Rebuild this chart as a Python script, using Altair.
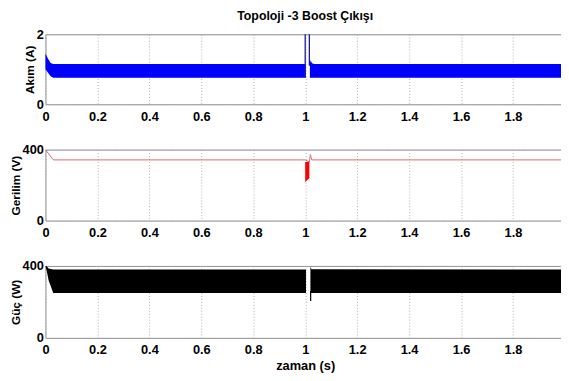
import altair as alt
import pandas as pd

# ---- data ----
# Akım (A): ripple envelope (lower/upper), two segments around the 1 s event
akim_t   = [0.0, 0.01, 0.02, 0.03, 1.002, 1.018, 1.021, 1.026, 1.035, 2.0]
akim_lo  = [1.00, 0.90, 0.80, 0.76, 0.76, 0.76, 0.76, 0.76, 0.76, 0.76]
akim_hi  = [1.45, 1.30, 1.18, 1.15, 1.15, 1.17, 1.26, 1.17, 1.15, 1.15]
akim_seg = ["a", "a", "a", "a", "a", "b", "b", "b", "b", "b"]
akim_spike_t  = [1.0, 1.016]
akim_spike_lo = [0.76, 1.10]
akim_spike_hi = [2.0, 2.0]

# Gerilim (V): mean line + ripple band during the event
ger_t   = [0.0, 0.03, 1.0, 1.016, 1.02, 1.025, 2.0]
ger_v   = [400, 342, 342, 330, 372, 342, 342]
ger_band_t  = [1.0, 1.005, 1.010, 1.016]
ger_band_lo = [215, 225, 232, 238]
ger_band_hi = [330, 330, 330, 330]

# Güç (W): ripple envelope
guc_t   = [0.0, 0.005, 0.012, 0.03, 1.003, 1.02, 1.024, 2.0]
guc_lo  = [400, 372, 320, 250, 250, 250, 250, 250]
guc_hi  = [400, 398, 386, 380, 380, 396, 382, 380]
guc_seg = ["a", "a", "a", "a", "a", "b", "b", "b"]
guc_spike_t  = [1.021]
guc_spike_lo = [205]
guc_spike_hi = [260]

x_ticks = [0, 0.2, 0.4, 0.6, 0.8, 1.0, 1.2, 1.4, 1.6, 1.8, 2.0]

FONT = "Liberation Sans"
W = 527

def xaxis(title=None):
    return alt.X("t:Q", scale=alt.Scale(domain=[0, 2], nice=False),
                 axis=alt.Axis(values=x_ticks, format="~g", title=title,
                               labelFlush=False, labelPadding=6, titlePadding=3))

def yenc(field, dom, vals, title):
    return alt.Y(f"{field}:Q", scale=alt.Scale(domain=dom, nice=False),
                 axis=alt.Axis(values=vals, title=title, labelFlush=False,
                               labelPadding=2, titlePadding=0, titleFontSize=12))

df_akim = pd.DataFrame({"t": akim_t, "lo": akim_lo, "hi": akim_hi, "seg": akim_seg})
df_akim_sp = pd.DataFrame({"t": akim_spike_t, "lo": akim_spike_lo, "hi": akim_spike_hi})
top = alt.layer(
    alt.Chart(df_akim).mark_area(color="#0000ff", opacity=1).encode(
        x=xaxis(), y=yenc("lo", [0, 2], [0, 1, 2], "Akım (A)"), y2="hi:Q", detail="seg:N"),
    alt.Chart(df_akim_sp).mark_rule(color="#1a1aa0", strokeWidth=1.3).encode(
        x="t:Q", y="lo:Q", y2="hi:Q"),
).properties(width=W, height=71,
             title=alt.TitleParams("Topoloji -3 Boost Çıkışı", fontSize=12.5,
                                   fontWeight="bold", font=FONT, anchor="middle",
                                   frame="group", offset=6))

df_ger = pd.DataFrame({"t": ger_t, "v": ger_v})
df_ger_b = pd.DataFrame({"t": ger_band_t, "lo": ger_band_lo, "hi": ger_band_hi})
mid = alt.layer(
    alt.Chart(df_ger).mark_line(color="#e06a6a", strokeWidth=1).encode(
        x=xaxis(), y=yenc("v", [0, 400], [0, 200, 400], "Gerilim (V)")),
    alt.Chart(df_ger_b).mark_area(color="#ff0000", opacity=1).encode(
        x="t:Q", y="lo:Q", y2="hi:Q"),
).properties(width=W, height=72)

df_guc = pd.DataFrame({"t": guc_t, "lo": guc_lo, "hi": guc_hi, "seg": guc_seg})
df_guc_sp = pd.DataFrame({"t": guc_spike_t, "lo": guc_spike_lo, "hi": guc_spike_hi})
bot = alt.layer(
    alt.Chart(df_guc).mark_area(color="#000000", opacity=1).encode(
        x=xaxis("zaman (s)"), y=yenc("lo", [0, 400], [0, 200, 400], "Güç (W)"),
        y2="hi:Q", detail="seg:N"),
    alt.Chart(df_guc_sp).mark_rule(color="#000000", strokeWidth=1.2).encode(
        x="t:Q", y="lo:Q", y2="hi:Q"),
).properties(width=W, height=73)

chart = alt.vconcat(top, mid, bot, spacing=19).properties(
    padding={"left": 0, "top": -1, "right": -9, "bottom": 0},
    background="white",
).configure_view(stroke="#8a8a8a", strokeWidth=1).configure_axis(
    grid=True, gridColor="#b0b0b0", gridDash=[1, 2], gridWidth=1,
    domain=False, ticks=False,
    labelFont=FONT, labelFontSize=13, labelFontWeight="bold", labelColor="#000",
    titleFont=FONT, titleFontSize=13, titleFontWeight="bold", titleColor="#000",
)

chart.save("out.html", embed_options={"renderer": "svg", "actions": False})
